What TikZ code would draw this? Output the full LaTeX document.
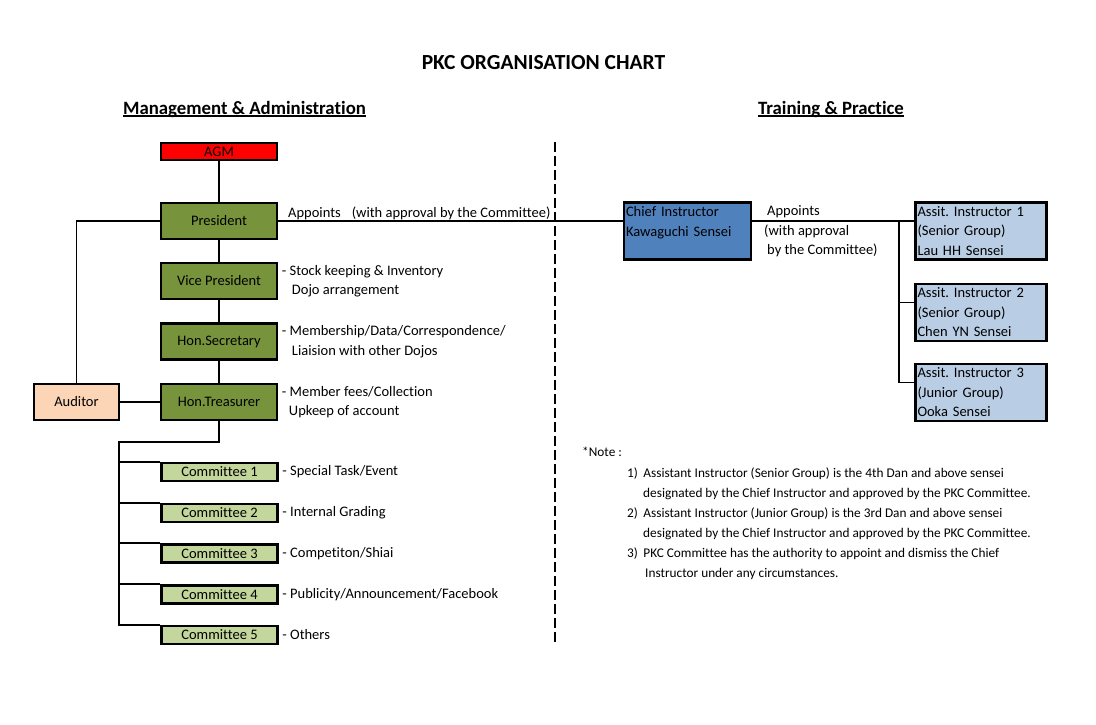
\documentclass[tikz,border=0pt]{standalone}
\usepackage{fontspec}
\setmainfont{Carlito}[Ligatures=NoCommon]
\usetikzlibrary{positioning}
\frenchspacing

\definecolor{agmred}{HTML}{FF0000}
\definecolor{offgreen}{HTML}{77933C}
\definecolor{comgreen}{HTML}{C3D69B}
\definecolor{audpeach}{HTML}{FBD5B5}
\definecolor{chiefblue}{HTML}{4F81BD}
\definecolor{asblue}{HTML}{B9CDE5}

\newcommand{\lblsize}{\fontsize{14.5}{19.5}\selectfont}
\newcommand{\notesize}{\fontsize{13.3}{20}\selectfont}
\newcommand{\headul}[1]{\setbox0\hbox{#1}\rlap{\rule[-3pt]{\wd0}{1.6pt}}\box0}

\begin{document}
\begin{tikzpicture}[x=1pt,y=-1pt,
  box/.style={draw,line width=2.5pt,inner sep=0pt,font=\lblsize,minimum width=116pt},
  office/.style={box,fill=offgreen,minimum height=36pt},
  comm/.style={box,fill=comgreen,minimum height=18pt},
  instr/.style={box,align=left,inner xsep=2pt,minimum height=57pt},
  lbl/.style={inner sep=0pt,font=\lblsize,align=left},
  head/.style={inner sep=0pt,font=\bfseries\fontsize{18.8}{22}\selectfont},
  link/.style={line width=1.8pt},
  divider/.style={line width=2.5pt,dash pattern=on 10pt off 4pt}
]
\useasboundingbox (0,0) rectangle (1096,724);

% titles
\node[inner sep=0pt,font=\bfseries\fontsize{21.5}{25}\selectfont] (title) at (543.5,63) {PKC ORGANISATION CHART};
\node[head] (mgmt) at (244.5,109) {\headul{Management \& Administration}};
\node[head] (train) at (831,109) {\headul{Training \& Practice}};

% management side
\node[box,fill=agmred,minimum height=17pt] (agm) at (219,151.5) {AGM};
\node[office] (pres) at (219,221) {President};
\node[office] (vp) at (219,281) {Vice President};
\node[office] (sec) at (219,341.5) {Hon.Secretary};
\node[office] (treas) at (219,402) {Hon.Treasurer};
\node[box,fill=audpeach,minimum width=85pt,minimum height=36pt] (aud) at (76.5,402) {Auditor};
\foreach \i/\y in {1/472,2/513,3/553.5,4/594.5,5/635}
  \node[comm] (c\i) at (219.5,\y) {Committee \i};

\node[lbl,anchor=base west] (apptxt) at (288,217) {Appoints\hspace{11pt}(with approval by the Committee)};
\node[lbl,right=3.5pt of vp] (vptxt) {- Stock keeping \& Inventory\\\hspace*{10pt}Dojo arrangement};
\node[lbl,right=3.5pt of sec] (sectxt) {- Membership/Data/Correspondence/\\\hspace*{10pt}Liaision with other Dojos};
\node[lbl,right=3.5pt of treas] (treastxt) {- Member fees/Collection\\\hspace*{7pt}Upkeep of account};
\node[lbl,right=3.5pt of c1] (c1txt) {- Special Task/Event};
\node[lbl,right=3.5pt of c2] (c2txt) {- Internal Grading};
\node[lbl,right=3.5pt of c3] (c3txt) {- Competiton/Shiai};
\node[lbl,right=3.5pt of c4] (c4txt) {- Publicity/Announcement/Facebook};
\node[lbl,right=3.5pt of c5] (c5txt) {- Others};

\draw[link] (agm) -- (pres);
\draw[link] (pres) -- (vp);
\draw[link] (vp) -- (sec);
\draw[link] (sec) -- (treas);
\draw[link] (aud) -- (treas);
\draw[link] (aud.north) |- (pres.west);
\coordinate (cbus) at (119,442);
\draw[link] (treas.south) |- (cbus) -- (cbus |- c5.north west) -- (c5.north west);
\foreach \i in {1,...,4}
  \draw[link] (cbus |- c\i.north west) -- (c\i.north west);

% divider
\coordinate (divtop) at (555,142);
\coordinate (divbot) at (555,645);
\draw[divider] (divtop) -- (divbot);

% training side
\node[instr,fill=chiefblue,text width=123pt] (chief) at (687.5,231) {Chief Instructor\\Kawaguchi Sensei\\\mbox{}};
\node[instr,fill=asblue,text width=127pt] (as1) at (981,231) {Assit. Instructor 1\\(Senior Group)\\Lau HH Sensei};
\node[instr,fill=asblue,text width=127pt] (as2) at (981,312.5) {Assit. Instructor 2\\(Senior Group)\\Chen YN Sensei};
\node[instr,fill=asblue,text width=127pt] (as3) at (981,392.5) {Assit. Instructor 3\\(Junior Group)\\Ooka Sensei};

\node[lbl,anchor=west] (chieftxt) at (764,231.5) {\hspace*{3pt}Appoints\\(with approval\\\hspace*{3pt}by the Committee)};

\draw[link] (pres.east) -- ([yshift=10pt]chief.west);
\coordinate (asplit) at (899,221);
\draw[link] ([yshift=10pt]chief.east) -- ([yshift=10pt]as1.west);
\draw[link] (asplit) |- ([yshift=10pt]as2.west);
\draw[link] (asplit) |- ([yshift=10pt]as3.west);

% notes
\node[inner sep=0pt,anchor=west,font=\notesize] (notehd) at (582,452) {*Note :};
\node[inner sep=0pt,anchor=west,font=\notesize,align=left] (notes) at (627,523.5) {1)\hspace{5.5pt}Assistant Instructor (Senior Group) is the 4th Dan and above sensei\\
\hspace*{16pt}designated by the Chief Instructor and approved by the PKC Committee.\\
2)\hspace{5.5pt}Assistant Instructor (Junior Group) is the 3rd Dan and above sensei\\
\hspace*{16pt}designated by the Chief Instructor and approved by the PKC Committee.\\
3)\hspace{5.5pt}PKC Committee has the authority to appoint and dismiss the Chief\\
\hspace*{18pt}Instructor under any circumstances.};
\end{tikzpicture}
\end{document}
